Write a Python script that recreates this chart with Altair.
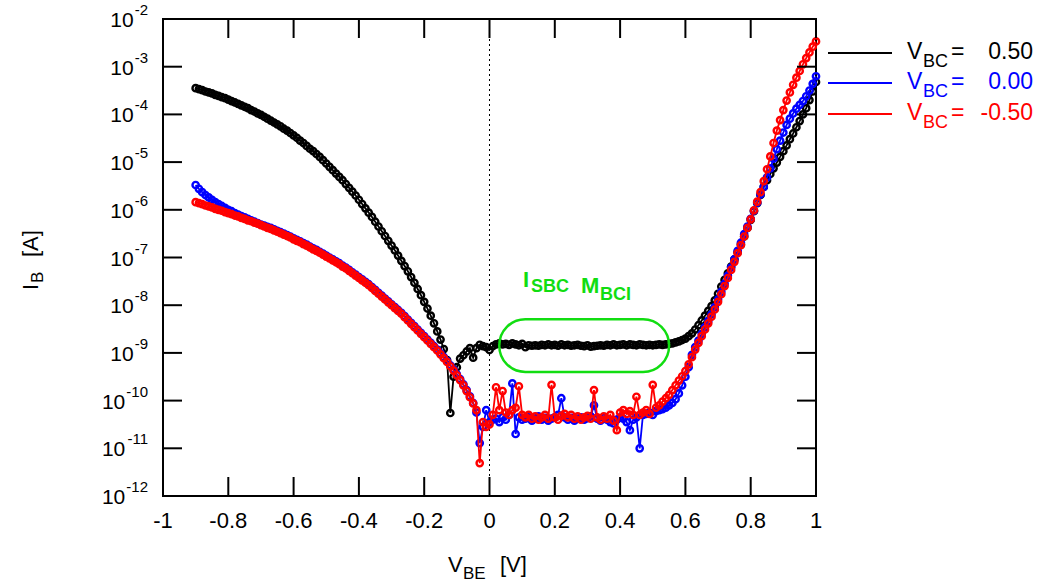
import altair as alt
import pandas as pd

# ---------------- data (log10 of I_B in A) ----------------
vbe = [-0.90, -0.89, -0.88, -0.87, -0.86, -0.85, -0.84, -0.83, -0.82, -0.81,
       -0.80, -0.79, -0.78, -0.77, -0.76, -0.75, -0.74, -0.73, -0.72, -0.71,
       -0.70, -0.69, -0.68, -0.67, -0.66, -0.65, -0.64, -0.63, -0.62, -0.61,
       -0.60, -0.59, -0.58, -0.57, -0.56, -0.55, -0.54, -0.53, -0.52, -0.51,
       -0.50, -0.49, -0.48, -0.47, -0.46, -0.45, -0.44, -0.43, -0.42, -0.41,
       -0.40, -0.39, -0.38, -0.37, -0.36, -0.35, -0.34, -0.33, -0.32, -0.31,
       -0.30, -0.29, -0.28, -0.27, -0.26, -0.25, -0.24, -0.23, -0.22, -0.21,
       -0.20, -0.19, -0.18, -0.17, -0.16, -0.15, -0.14, -0.13, -0.12, -0.11,
       -0.10, -0.09, -0.08, -0.07, -0.06, -0.05, -0.04, -0.03, -0.02, -0.01,
       0.00, 0.01, 0.02, 0.03, 0.04, 0.05, 0.06, 0.07, 0.08, 0.09,
       0.10, 0.11, 0.12, 0.13, 0.14, 0.15, 0.16, 0.17, 0.18, 0.19,
       0.20, 0.21, 0.22, 0.23, 0.24, 0.25, 0.26, 0.27, 0.28, 0.29,
       0.30, 0.31, 0.32, 0.33, 0.34, 0.35, 0.36, 0.37, 0.38, 0.39,
       0.40, 0.41, 0.42, 0.43, 0.44, 0.45, 0.46, 0.47, 0.48, 0.49,
       0.50, 0.51, 0.52, 0.53, 0.54, 0.55, 0.56, 0.57, 0.58, 0.59,
       0.60, 0.61, 0.62, 0.63, 0.64, 0.65, 0.66, 0.67, 0.68, 0.69,
       0.70, 0.71, 0.72, 0.73, 0.74, 0.75, 0.76, 0.77, 0.78, 0.79,
       0.80, 0.81, 0.82, 0.83, 0.84, 0.85, 0.86, 0.87, 0.88, 0.89,
       0.90, 0.91, 0.92, 0.93, 0.94, 0.95, 0.96, 0.97, 0.98, 0.99,
       1.00]

log_ib_vbc_p050 = [
    -3.45, -3.47, -3.49, -3.52, -3.54, -3.56, -3.59, -3.61, -3.64, -3.66,
    -3.69, -3.72, -3.75, -3.78, -3.81, -3.84, -3.87, -3.91, -3.94, -3.98,
    -4.01, -4.05, -4.09, -4.13, -4.17, -4.21, -4.25, -4.30, -4.34, -4.39,
    -4.44, -4.49, -4.55, -4.60, -4.66, -4.72, -4.77, -4.83, -4.89, -4.96,
    -5.03, -5.10, -5.17, -5.24, -5.31, -5.38, -5.46, -5.54, -5.62, -5.70,
    -5.79, -5.88, -5.97, -6.06, -6.15, -6.25, -6.35, -6.45, -6.55, -6.65,
    -6.75, -6.85, -6.96, -7.07, -7.18, -7.29, -7.41, -7.53, -7.66, -7.79,
    -7.93, -8.07, -8.22, -8.38, -8.55, -8.72, -8.92, -9.15, -10.26, -9.50,
    -9.30, -9.12, -9.05, -8.97, -8.90, -9.10, -8.90, -8.83, -8.86, -8.88,
    -8.94, -8.86, -8.82, -8.80, -8.82, -8.81, -8.83, -8.80, -8.82, -8.84,
    -8.81, -8.88, -8.84, -8.85, -8.84, -8.85, -8.83, -8.84, -8.82, -8.84,
    -8.83, -8.85, -8.82, -8.84, -8.83, -8.85, -8.84, -8.83, -8.85, -8.86,
    -8.84, -8.87, -8.86, -8.85, -8.84, -8.85, -8.83, -8.84, -8.82, -8.84,
    -8.83, -8.82, -8.84, -8.82, -8.83, -8.84, -8.82, -8.83, -8.84, -8.83,
    -8.84, -8.83, -8.82, -8.83, -8.82, -8.81, -8.80, -8.78, -8.76, -8.73,
    -8.70, -8.65, -8.59, -8.51, -8.42, -8.32, -8.22, -8.12, -8.02, -7.90,
    -7.76, -7.61, -7.47, -7.33, -7.19, -7.04, -6.89, -6.73, -6.56, -6.38,
    -6.21, -6.03, -5.86, -5.69, -5.52, -5.38, -5.25, -5.13, -5.01, -4.89,
    -4.77, -4.65, -4.52, -4.40, -4.27, -4.14, -4.00, -3.87, -3.70, -3.52,
    -3.32]

log_ib_vbc_000 = [
    -5.48, -5.56, -5.63, -5.69, -5.74, -5.79, -5.84, -5.88, -5.92, -5.96,
    -6.00, -6.03, -6.07, -6.10, -6.13, -6.16, -6.19, -6.22, -6.25, -6.28,
    -6.31, -6.33, -6.36, -6.38, -6.41, -6.44, -6.47, -6.50, -6.53, -6.56,
    -6.60, -6.63, -6.66, -6.70, -6.73, -6.77, -6.81, -6.84, -6.88, -6.92,
    -6.96, -7.00, -7.04, -7.08, -7.12, -7.17, -7.21, -7.26, -7.31, -7.36,
    -7.41, -7.46, -7.51, -7.56, -7.62, -7.68, -7.74, -7.80, -7.86, -7.92,
    -7.98, -8.04, -8.10, -8.16, -8.23, -8.30, -8.37, -8.44, -8.51, -8.58,
    -8.65, -8.72, -8.79, -8.86, -8.93, -9.01, -9.09, -9.17, -9.26, -9.35,
    -9.45, -9.55, -9.66, -9.78, -9.91, -10.05, -10.25, -10.89, -10.55, -10.20,
    -10.45, -10.40, -10.38, -10.45, -10.35, -10.40, -10.30, -9.64, -10.70, -10.35,
    -10.40, -10.38, -10.35, -10.42, -10.38, -10.33, -10.40, -10.36, -10.42, -10.38,
    -10.35, -10.30, -9.95, -10.35, -10.40, -10.36, -10.42, -10.38, -10.35, -10.40,
    -10.37, -10.33, -10.10, -10.38, -10.42, -10.36, -10.40, -10.45, -10.48, -10.40,
    -10.35, -10.38, -10.45, -10.62, -10.40, -10.35, -11.00, -10.30, -10.28, -10.25,
    -10.30, -10.22, -10.20, -10.18, -10.15, -10.10, -10.05, -9.97, -9.85, -9.68,
    -9.50, -9.30, -9.04, -8.88, -8.74, -8.60, -8.46, -8.33, -8.19, -8.04,
    -7.88, -7.72, -7.55, -7.38, -7.21, -7.04, -6.86, -6.69, -6.51, -6.35,
    -6.19, -6.02, -5.85, -5.68, -5.52, -5.32, -5.13, -4.93, -4.73, -4.55,
    -4.38, -4.22, -4.09, -3.98, -3.88, -3.80, -3.72, -3.62, -3.50, -3.36,
    -3.20]

log_ib_vbc_m050 = [
    -5.84, -5.86, -5.88, -5.91, -5.93, -5.95, -5.98, -6.00, -6.02, -6.05,
    -6.07, -6.09, -6.12, -6.14, -6.17, -6.19, -6.22, -6.24, -6.27, -6.29,
    -6.32, -6.35, -6.38, -6.40, -6.43, -6.46, -6.49, -6.52, -6.55, -6.58,
    -6.62, -6.65, -6.68, -6.72, -6.75, -6.79, -6.83, -6.86, -6.90, -6.94,
    -6.98, -7.02, -7.06, -7.10, -7.14, -7.19, -7.23, -7.28, -7.33, -7.38,
    -7.43, -7.48, -7.53, -7.58, -7.64, -7.70, -7.76, -7.82, -7.88, -7.94,
    -8.00, -8.06, -8.12, -8.18, -8.25, -8.32, -8.39, -8.46, -8.53, -8.60,
    -8.67, -8.74, -8.81, -8.88, -8.95, -9.03, -9.11, -9.19, -9.28, -9.37,
    -9.47, -9.57, -9.68, -9.80, -9.93, -10.06, -10.20, -11.31, -10.45, -10.55,
    -10.50, -10.30, -9.72, -10.20, -9.80, -10.25, -10.30, -10.20, -10.15, -9.70,
    -10.30, -10.35, -10.30, -10.38, -10.33, -10.40, -10.35, -10.30, -10.38, -9.67,
    -10.35, -10.40, -10.32, -10.28, -10.35, -10.30, -10.38, -10.33, -10.40, -10.35,
    -10.32, -10.38, -9.78, -10.35, -10.40, -10.33, -10.38, -10.30, -10.42, -10.62,
    -10.25, -10.20, -10.28, -10.22, -10.30, -9.92, -10.30, -10.25, -10.20, -10.28,
    -9.67, -10.15, -10.10, -10.02, -9.95, -9.88, -9.78, -9.68, -9.58, -9.49,
    -9.38, -9.24, -9.09, -8.93, -8.79, -8.65, -8.51, -8.38, -8.24, -8.09,
    -7.93, -7.77, -7.60, -7.43, -7.26, -7.09, -6.91, -6.74, -6.56, -6.38,
    -6.20, -6.01, -5.83, -5.63, -5.40, -5.15, -4.88, -4.60, -4.34, -4.12,
    -3.91, -3.71, -3.54, -3.38, -3.23, -3.09, -2.95, -2.82, -2.70, -2.58,
    -2.47]

series_values = ["0.50", "0.00", "-0.50"]
x_tick_values = [-1.0, -0.8, -0.6, -0.4, -0.2, 0.0, 0.2, 0.4, 0.6, 0.8, 1.0]
x_tick_labels = ["-1", "-0.8", "-0.6", "-0.4", "-0.2", "0", "0.2", "0.4", "0.6", "0.8", "1"]
y_tick_values = [1e-2, 1e-3, 1e-4, 1e-5, 1e-6, 1e-7, 1e-8, 1e-9, 1e-10, 1e-11, 1e-12]
y_tick_exponents = ["-2", "-3", "-4", "-5", "-6", "-7", "-8", "-9", "-10", "-11", "-12"]
box_vbe = [0.03, 0.55]          # annotation box, V_BE range
box_ib = [5.1e-9, 4.0e-10]      # annotation box, I_B range

# ---------------- layout ----------------
W, H = 653, 477
FONT = "Liberation Sans"
GREEN = "#11dd11"
COLORS = ["#000000", "#0000ff", "#ff0000"]

xscale = alt.Scale(domain=[-1, 1], nice=False, zero=False)
yscale = alt.Scale(type="log", domain=[1e-12, 1e-2], nice=False)

one = pd.DataFrame({"k": [0]})


def txt(s, x, y, size, color="black", bold=False, align="left", angle=0):
    return alt.Chart(one).mark_text(
        align=align, baseline="alphabetic", fontSize=size, font=FONT,
        color=color, fontWeight="bold" if bold else "normal", angle=angle
    ).encode(x=alt.value(x), y=alt.value(y), text=alt.value(s))


layers = []

# dotted line at V_BE = 0
layers.append(
    alt.Chart(pd.DataFrame({"v": [0.0]})).mark_rule(
        color="black", strokeDash=[2, 3], strokeWidth=1
    ).encode(x=alt.X("v:Q", scale=xscale, axis=None))
)

# curves
for logs, col in zip([log_ib_vbc_p050, log_ib_vbc_000, log_ib_vbc_m050], COLORS):
    df = pd.DataFrame({"vbe": vbe, "ib": [10 ** v for v in logs]})
    base = alt.Chart(df).encode(
        x=alt.X("vbe:Q", scale=xscale, axis=None),
        y=alt.Y("ib:Q", scale=yscale, axis=None),
    )
    layers.append(base.mark_line(color=col, strokeWidth=1.8))
    layers.append(base.mark_point(shape="circle", size=40, filled=False,
                                  color=col, strokeWidth=2.4, opacity=1))

# annotation box
layers.append(
    alt.Chart(pd.DataFrame({"x": [box_vbe[0]], "x2": [box_vbe[1]],
                            "y": [box_ib[0]], "y2": [box_ib[1]]})).mark_rect(
        fillOpacity=0, stroke=GREEN, strokeWidth=2.5, cornerRadius=26
    ).encode(
        x=alt.X("x:Q", scale=xscale, axis=None), x2="x2:Q",
        y=alt.Y("y:Q", scale=yscale, axis=None), y2="y2:Q",
    )
)
layers += [
    txt("I", 360, 268, 22, GREEN, True),
    txt("SBC", 368, 273, 18, GREEN, True),
    txt("M", 418, 274, 22, GREEN, True),
    txt("BCI", 437, 281, 18, GREEN, True),
]

# inside ticks on all four sides
ydf = pd.DataFrame({"ib": y_tick_values, "exp": y_tick_exponents})
xdf = pd.DataFrame({"v": x_tick_values, "label": x_tick_labels})
ybase = alt.Chart(ydf).encode(y=alt.Y("ib:Q", scale=yscale, axis=None))
xbase = alt.Chart(xdf).encode(x=alt.X("v:Q", scale=xscale, axis=None))
layers += [
    ybase.mark_rule(color="black", strokeWidth=2).encode(x=alt.value(0), x2=alt.value(19)),
    ybase.mark_rule(color="black", strokeWidth=2).encode(x=alt.value(W - 19), x2=alt.value(W)),
    xbase.mark_rule(color="black", strokeWidth=2).encode(y=alt.value(H - 19), y2=alt.value(H)),
    xbase.mark_rule(color="black", strokeWidth=2).encode(y=alt.value(0), y2=alt.value(19)),
]

# y tick labels: 10 with superscript exponent
layers.append(
    ybase.mark_text(align="right", baseline="alphabetic", dy=-4, fontSize=15,
                    font=FONT, color="black").encode(x=alt.value(-15), text="exp:N")
)
for n, xoff in [(2, -16 - 13.3), (3, -16 - 21.7)]:
    layers.append(
        ybase.transform_filter(f"length(datum.exp) == {n}").mark_text(
            align="right", baseline="alphabetic", dy=8, fontSize=21,
            font=FONT, color="black"
        ).encode(x=alt.value(xoff), text=alt.value("10"))
    )

# x tick labels
layers.append(
    xbase.mark_text(align="center", baseline="top", fontSize=22, font=FONT,
                    color="black").encode(y=alt.value(H + 15), text="label:N")
)

# axis titles
layers += [
    txt("V", 285, 553, 22),
    txt("BE", 300, 560, 17),
    txt("[V]", 337, 553, 22),
    txt("I", -125, 271, 22, angle=270),
    txt("B", -120, 264, 17, angle=270),
    txt("[A]", -125, 238, 22, angle=270),
]

# legend
rows = [34, 64, 95]
for yrow, col, val in zip(rows, COLORS, series_values):
    layers.append(
        alt.Chart(one).mark_rule(color=col, strokeWidth=2).encode(
            x=alt.value(828 - 163), x2=alt.value(892 - 163), y=alt.value(yrow)
        )
    )
    layers += [
        txt("V", 744, yrow + 6, 23, col),
        txt("BC", 760, yrow + 14, 18, col),
        txt("=", 788, yrow + 6, 23, col),
        txt(val, 870, yrow + 6, 23, col, align="right"),
    ]

chart = alt.layer(*layers).properties(
    width=W, height=H,
    autosize=alt.AutoSizeParams(type="none"),
    padding={"left": 163, "top": 19, "right": 1052 - 163 - W, "bottom": 582 - 19 - H},
    background="white",
).configure_view(stroke="black", strokeWidth=2)

chart.save("out.html", embed_options={"renderer": "svg", "actions": False})
